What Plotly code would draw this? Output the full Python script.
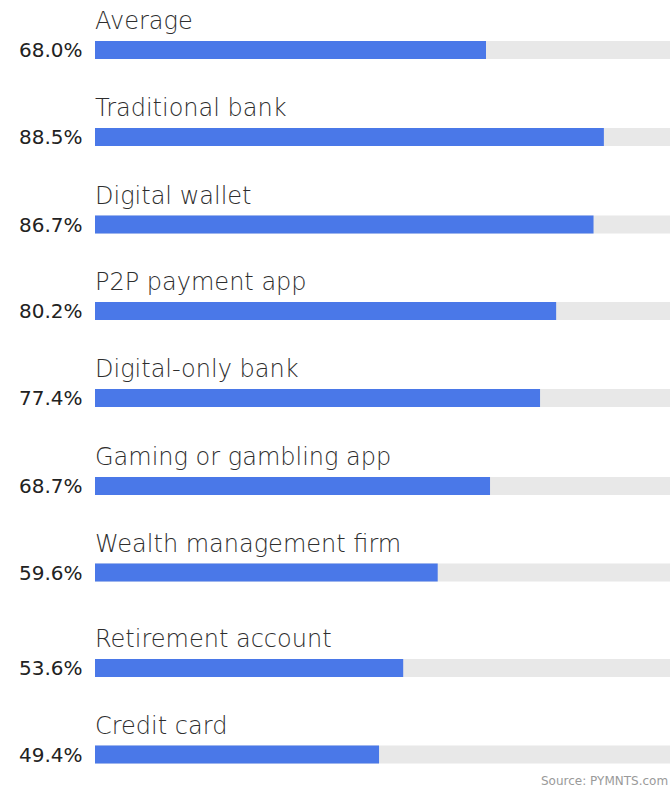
import plotly.graph_objects as go

# Share of respondents per provider type
categories = [
    "Average",
    "Traditional bank",
    "Digital wallet",
    "P2P payment app",
    "Digital-only bank",
    "Gaming or gambling app",
    "Wealth management firm",
    "Retirement account",
    "Credit card",
]
values = [68.0, 88.5, 86.7, 80.2, 77.4, 68.7, 59.6, 53.6, 49.4]
scale_max = 100.0
source_text = "Source: PYMNTS.com"

# Layout (pixel-based y axis so rows sit at fixed heights)
W, H = 670, 789
row_centers = [50, 137, 224.5, 311, 398, 486, 572.5, 668, 754.5]
bar_h = 18
left_px = 95

BLUE = "#4a78e8"
TRACK = "#e8e8e8"
FONT = "DejaVu Sans"

fig = go.Figure()
fig.add_trace(go.Bar(
    x=[scale_max] * len(values), y=row_centers, orientation="h",
    width=bar_h, marker=dict(color=TRACK, line=dict(width=0)),
    hoverinfo="skip", showlegend=False,
))
fig.add_trace(go.Bar(
    x=values, y=row_centers, orientation="h",
    width=bar_h, marker=dict(color=BLUE, line=dict(width=0)),
    customdata=categories,
    hovertemplate="%{customdata}: %{x:.1f}%<extra></extra>",
    showlegend=False,
))

annotations = []
for cat, val, yc in zip(categories, values, row_centers):
    annotations.append(dict(
        x=0, y=yc - 29, xref="x", yref="y", text=cat, showarrow=False,
        xanchor="left", yanchor="middle", xshift=-2,
        font=dict(family=FONT, size=24, color="#2e2e2e", weight=200),
    ))
    annotations.append(dict(
        x=0, y=yc, xref="x", yref="y", text=f"{val:.1f}%", showarrow=False,
        xanchor="right", yanchor="middle", xshift=-10,
        font=dict(family=FONT, size=20, color="#222222"),
    ))
annotations.append(dict(
    x=1, y=781, xref="paper", yref="y", text=source_text, showarrow=False,
    xanchor="right", yanchor="middle",
    font=dict(family=FONT, size=12, color="#9a9a9a"),
))

fig.update_layout(
    width=W, height=H,
    margin=dict(l=0, r=0, t=0, b=0),
    paper_bgcolor="white", plot_bgcolor="white",
    barmode="overlay",
    xaxis=dict(domain=[left_px / W, 1], range=[0, scale_max], visible=False, fixedrange=True),
    yaxis=dict(domain=[0, 1], range=[H, 0], visible=False, fixedrange=True),
    annotations=annotations,
)

fig.write_html("out.html")
